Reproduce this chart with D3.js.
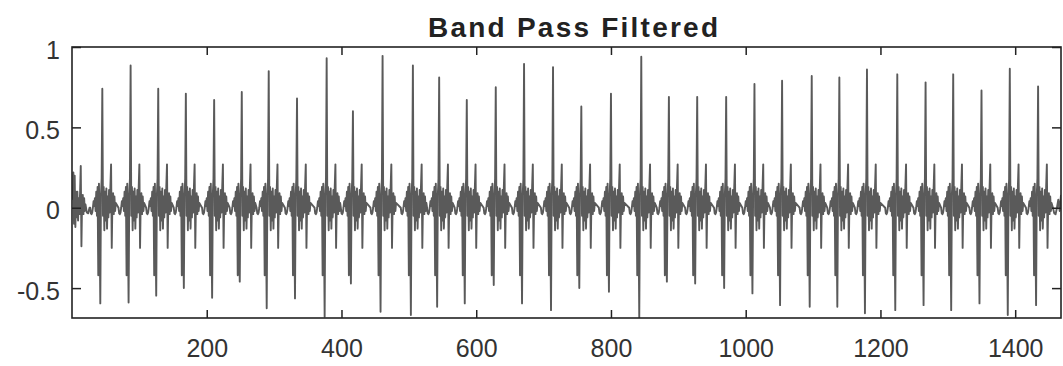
<!DOCTYPE html>
<html>
<head>
<meta charset="utf-8">
<script src="https://cdn.jsdelivr.net/npm/d3@7"></script>
<style>
  html, body { margin: 0; padding: 0; background: #fff; }
  svg { display: block; }
  .tick text { font-family: "Liberation Sans", Arial, sans-serif; fill: #333; }
</style>
</head>
<body>
<div id="graph"></div>
<script>
// beat positions (sample index of the big spike)
const beatSample = [45, 87, 128, 169, 211, 252, 292, 334, 378, 417, 461, 506, 545, 586, 629, 671, 714,
    756, 800, 845, 886, 928, 971, 1013, 1054, 1098, 1139, 1180, 1225, 1267, 1308, 1350, 1392, 1434];
const rPeak = [0.74, 0.885, 0.74, 0.71, 0.67, 0.72, 0.85, 0.68, 0.93, 0.60, 0.945, 0.885, 0.81, 0.67, 0.75, 0.895, 0.875,
    0.63, 0.71, 0.94, 0.69, 0.69, 0.69, 0.77, 0.79, 0.82, 0.81, 0.86, 0.83, 0.78, 0.83, 0.73, 0.865, 0.755];
const sTrough = [-0.595, -0.59, -0.547, -0.50, -0.56, -0.46, -0.626, -0.564, -0.678, -0.471, -0.647, -0.668, -0.616, -0.595, -0.481, -0.595, -0.637,
    -0.50, -0.523, -0.685, -0.46, -0.471, -0.50, -0.533, -0.606, -0.616, -0.616, -0.657, -0.637, -0.606, -0.637, -0.595, -0.668, -0.606];

// shape of one beat around the spike (offset in samples, value); R and S come from the arrays above
const shapeOffsets = [-18, -17, -16, -15, -14, -13, -12, -11, -10, -9, -8, -7, -6, -5, -4, -3, -2, -1, 0,
    1, 2, 3, 4, 5, 6, 7, 8, 9, 10, 11, 12, 13, 14, 15, 16, 17, 18, 19, 20];
const shapeValues = [0.0, -0.035, -0.04, -0.03, 0.0, 0.04, 0.01, 0.06, -0.02, 0.10, -0.05, 0.13, -0.42, 0.15, -0.12, null, 0.08, 0.18, null,
    -0.05, 0.13, -0.14, 0.10, -0.08, 0.12, -0.13, 0.07, -0.06, 0.11, -0.03, 0.13, 0.27, -0.25, 0.04, 0.09, -0.04, 0.07, -0.02, 0.03];

// start and end of the record (partial beats)
const leadX = [1, 2, 3, 4, 5, 6, 7, 8, 9, 10, 11, 12, 13, 14, 15, 16, 17, 18, 19, 20, 22, 24, 26];
const leadY = [0.05, 0.22, -0.1, 0.2, -0.12, 0.1, -0.06, 0.1, -0.08, 0.06, -0.04, 0.1, 0.26, -0.24, 0.05, 0.08, -0.04, 0.06, -0.02, 0.02, -0.03, -0.035, 0.0];
const tailX = [1456, 1458, 1460, 1462, 1464, 1466, 1468];
const tailY = [0.0, -0.035, -0.04, 0.0, 0.05, -0.02, 0.08];

const xTicks = [200, 400, 600, 800, 1000, 1200, 1400];
const yTicks = [-0.5, 0, 0.5, 1];
const title = 'Band Pass Filtered';

const points = [];
leadX.forEach((x, i) => points.push([x, leadY[i]]));
beatSample.forEach((b, i) => {
    shapeOffsets.forEach((o, j) => {
        const v = o === 0 ? rPeak[i] : (o === -3 ? sTrough[i] : shapeValues[j]);
        points.push([b + o, v]);
    });
});
tailX.forEach((x, i) => points.push([x, tailY[i]]));
points.sort((a, b) => a[0] - b[0]);

const W = 1063, H = 366;
const margin = { top: 47, right: 2, bottom: 48, left: 72 },
    width = W - margin.left - margin.right,
    height = H - margin.top - margin.bottom;

const x = d3.scaleLinear().domain([0, 1468]).range([0, width]);
const y = d3.scaleLinear().domain([-0.686, 1]).range([height, 0]);

const svg = d3.select('#graph').append('svg')
    .attr('width', W)
    .attr('height', H);

svg.append('text')
    .attr('x', 573)
    .attr('y', 37)
    .attr('text-anchor', 'middle')
    .attr('font-family', '"Liberation Sans", Arial, sans-serif')
    .attr('font-weight', 'bold')
    .attr('font-size', 28)
    .attr('fill', '#222')
    .attr('textLength', 290)
    .attr('lengthAdjust', 'spacing')
    .text(title);

const g = svg.append('g')
    .attr('transform', 'translate(' + margin.left + ',' + margin.top + ')');

g.append('clipPath').attr('id', 'clip')
    .append('rect').attr('width', width).attr('height', height);

const line = d3.line().x((d) => x(d[0])).y((d) => y(d[1]));

g.append('path')
    .datum(points)
    .attr('clip-path', 'url(#clip)')
    .attr('fill', 'none')
    .attr('stroke', '#5a5a5a')
    .attr('stroke-width', 1.9)
    .attr('stroke-linejoin', 'round')
    .attr('d', line);

// axes, MATLAB style: ticks inward on all four sides
const styleAxis = (sel) => {
    sel.select('.domain').remove();
    sel.selectAll('.tick line').attr('stroke', '#222').attr('stroke-width', 1.5);
    sel.selectAll('.tick text').attr('font-size', 25);
};

g.append('g')
    .attr('transform', 'translate(0,' + height + ')')
    .call(d3.axisBottom(x).tickValues(xTicks).tickSize(-8).tickPadding(21).tickFormat((d) => String(d)))
    .call(styleAxis);

g.append('g')
    .call(d3.axisTop(x).tickValues(xTicks).tickSize(-8).tickFormat(''))
    .call(styleAxis);

g.append('g')
    .call(d3.axisLeft(y).tickValues(yTicks).tickSize(-9).tickPadding(12).tickFormat((d) => String(d)))
    .call(styleAxis)
    .selectAll('.tick text').attr('dy', '0.45em');

g.append('g')
    .attr('transform', 'translate(' + width + ',0)')
    .call(d3.axisRight(y).tickValues(yTicks).tickSize(-9).tickFormat(''))
    .call(styleAxis);

g.append('rect')
    .attr('width', width)
    .attr('height', height)
    .attr('fill', 'none')
    .attr('stroke', '#222')
    .attr('stroke-width', 1.6);
</script>
</body>
</html>
